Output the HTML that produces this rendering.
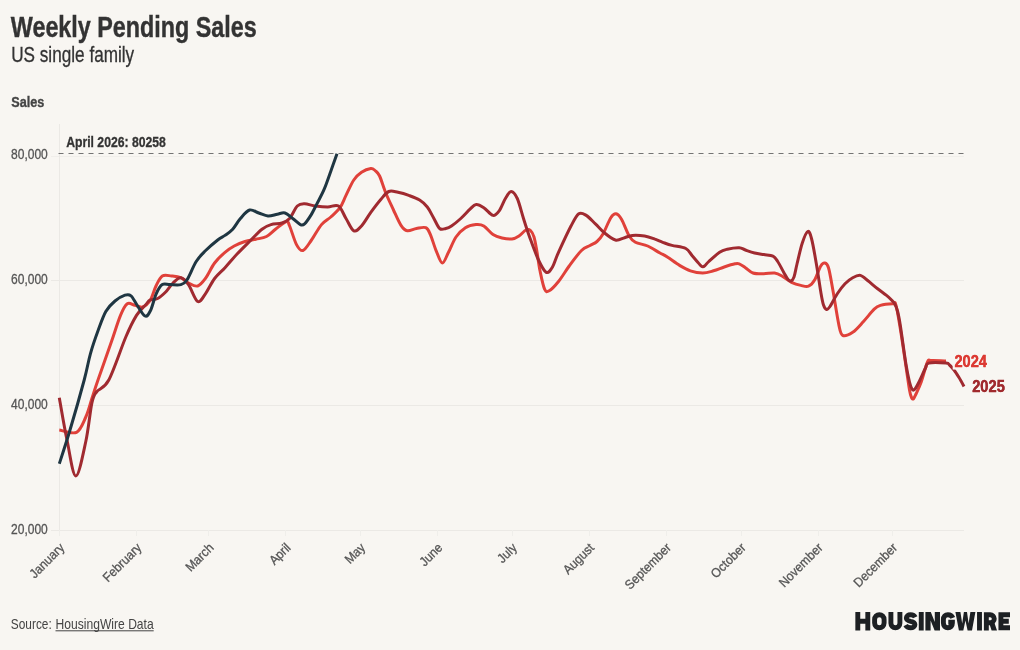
<!DOCTYPE html>
<html><head><meta charset="utf-8"><style>
html,body{margin:0;padding:0;background:#f8f6f2;}
body{width:1020px;height:650px;overflow:hidden;}
svg{display:block;font-family:"Liberation Sans", sans-serif;will-change:transform;}
</style></head><body>
<svg width="1020" height="650" viewBox="0 0 1020 650">
<line x1="51" x2="964" y1="530.5" y2="530.5" stroke="#ebe9e5" stroke-width="1"/>
<line x1="51" x2="964" y1="405.5" y2="405.5" stroke="#ebe9e5" stroke-width="1"/>
<line x1="51" x2="964" y1="280.5" y2="280.5" stroke="#ebe9e5" stroke-width="1"/>
<line x1="51" x2="964" y1="156.5" y2="156.5" stroke="#f0eeea" stroke-width="1"/>
<line x1="59.5" x2="59.5" y1="124" y2="531" stroke="#ebe9e5" stroke-width="1"/>
<line x1="59.5" x2="59.5" y1="530" y2="536" stroke="#efeeea" stroke-width="1"/>
<line x1="136.5" x2="136.5" y1="530" y2="536" stroke="#efeeea" stroke-width="1"/>
<line x1="208.5" x2="208.5" y1="530" y2="536" stroke="#efeeea" stroke-width="1"/>
<line x1="285.5" x2="285.5" y1="530" y2="536" stroke="#efeeea" stroke-width="1"/>
<line x1="360.5" x2="360.5" y1="530" y2="536" stroke="#efeeea" stroke-width="1"/>
<line x1="437.5" x2="437.5" y1="530" y2="536" stroke="#efeeea" stroke-width="1"/>
<line x1="512.5" x2="512.5" y1="530" y2="536" stroke="#efeeea" stroke-width="1"/>
<line x1="589.5" x2="589.5" y1="530" y2="536" stroke="#efeeea" stroke-width="1"/>
<line x1="666.5" x2="666.5" y1="530" y2="536" stroke="#efeeea" stroke-width="1"/>
<line x1="741.5" x2="741.5" y1="530" y2="536" stroke="#efeeea" stroke-width="1"/>
<line x1="818.5" x2="818.5" y1="530" y2="536" stroke="#efeeea" stroke-width="1"/>
<line x1="892.5" x2="892.5" y1="530" y2="536" stroke="#efeeea" stroke-width="1"/>
<text x="47.8" y="159.2" text-anchor="end" font-size="14.5" fill="#555" stroke="#555" stroke-width="0.3" textLength="36.8" lengthAdjust="spacingAndGlyphs">80,000</text>
<text x="47.8" y="284.1" text-anchor="end" font-size="14.5" fill="#555" stroke="#555" stroke-width="0.3" textLength="36.8" lengthAdjust="spacingAndGlyphs">60,000</text>
<text x="47.8" y="409.1" text-anchor="end" font-size="14.5" fill="#555" stroke="#555" stroke-width="0.3" textLength="36.8" lengthAdjust="spacingAndGlyphs">40,000</text>
<text x="47.8" y="534.0" text-anchor="end" font-size="14.5" fill="#555" stroke="#555" stroke-width="0.3" textLength="36.8" lengthAdjust="spacingAndGlyphs">20,000</text>
<text transform="translate(65.2,548.5) rotate(-45)" text-anchor="end" font-size="13.0" fill="#555" stroke="#555" stroke-width="0.3" textLength="43.0" lengthAdjust="spacingAndGlyphs">January</text>
<text transform="translate(142.3,548.5) rotate(-45)" text-anchor="end" font-size="13.0" fill="#555" stroke="#555" stroke-width="0.3" textLength="48.4" lengthAdjust="spacingAndGlyphs">February</text>
<text transform="translate(214.4,548.5) rotate(-45)" text-anchor="end" font-size="13.0" fill="#555" stroke="#555" stroke-width="0.3" textLength="33.6" lengthAdjust="spacingAndGlyphs">March</text>
<text transform="translate(291.5,548.5) rotate(-45)" text-anchor="end" font-size="13.0" fill="#555" stroke="#555" stroke-width="0.3" textLength="24.2" lengthAdjust="spacingAndGlyphs">April</text>
<text transform="translate(366.1,548.5) rotate(-45)" text-anchor="end" font-size="13.0" fill="#555" stroke="#555" stroke-width="0.3" textLength="22.8" lengthAdjust="spacingAndGlyphs">May</text>
<text transform="translate(443.2,548.5) rotate(-45)" text-anchor="end" font-size="13.0" fill="#555" stroke="#555" stroke-width="0.3" textLength="26.2" lengthAdjust="spacingAndGlyphs">June</text>
<text transform="translate(517.8,548.5) rotate(-45)" text-anchor="end" font-size="13.0" fill="#555" stroke="#555" stroke-width="0.3" textLength="21.5" lengthAdjust="spacingAndGlyphs">July</text>
<text transform="translate(594.8,548.5) rotate(-45)" text-anchor="end" font-size="13.0" fill="#555" stroke="#555" stroke-width="0.3" textLength="37.6" lengthAdjust="spacingAndGlyphs">August</text>
<text transform="translate(671.9,548.5) rotate(-45)" text-anchor="end" font-size="13.0" fill="#555" stroke="#555" stroke-width="0.3" textLength="59.1" lengthAdjust="spacingAndGlyphs">September</text>
<text transform="translate(746.5,548.5) rotate(-45)" text-anchor="end" font-size="13.0" fill="#555" stroke="#555" stroke-width="0.3" textLength="43.0" lengthAdjust="spacingAndGlyphs">October</text>
<text transform="translate(823.6,548.5) rotate(-45)" text-anchor="end" font-size="13.0" fill="#555" stroke="#555" stroke-width="0.3" textLength="55.8" lengthAdjust="spacingAndGlyphs">November</text>
<text transform="translate(898.2,548.5) rotate(-45)" text-anchor="end" font-size="13.0" fill="#555" stroke="#555" stroke-width="0.3" textLength="55.8" lengthAdjust="spacingAndGlyphs">December</text>
<line x1="58.5" x2="964" y1="153.5" y2="153.5" stroke="#737373" stroke-width="1" stroke-dasharray="5 5"/>
<text x="66.2" y="146.8" font-size="14.5" font-weight="bold" fill="#333" stroke="#333" stroke-width="0.3" textLength="99.7" lengthAdjust="spacingAndGlyphs">April 2026: 80258</text>
<path d="M59.3,430.0 C62.2,430.4 72.1,434.5 76.5,432.3 C80.9,430.1 83.2,422.6 85.8,417.0 C88.4,411.4 89.9,404.7 91.9,398.5 C93.9,392.3 94.7,389.5 98.0,380.0 C101.3,370.5 107.8,352.3 111.5,341.5 C115.2,330.7 117.9,321.7 120.5,315.4 C123.1,309.1 124.9,305.5 127.3,303.8 C129.7,302.1 132.4,304.9 135.0,305.4 C137.6,305.9 140.1,307.9 142.7,307.0 C145.3,306.1 148.2,303.5 150.4,300.0 C152.6,296.5 154.0,290.0 156.0,286.0 C158.0,282.0 159.7,277.7 162.3,276.0 C164.9,274.3 168.4,275.7 171.5,276.0 C174.6,276.3 178.0,276.5 180.8,277.7 C183.6,278.9 185.7,281.6 188.5,283.0 C191.3,284.4 194.9,286.8 197.7,286.0 C200.5,285.2 202.6,282.3 205.4,278.5 C208.2,274.7 211.3,267.4 214.6,263.0 C217.9,258.6 221.7,255.1 225.0,252.3 C228.3,249.5 230.9,247.8 234.2,246.0 C237.5,244.2 241.4,242.6 245.0,241.5 C248.6,240.4 252.2,240.0 255.8,239.2 C259.4,238.4 263.2,238.2 266.5,236.5 C269.8,234.8 272.5,231.5 275.8,229.0 C279.1,226.5 284.2,222.0 286.5,221.5 C288.8,221.0 287.9,222.2 289.6,226.0 C291.3,229.8 294.3,240.5 296.5,244.6 C298.7,248.7 300.5,251.3 303.0,250.5 C305.5,249.7 308.4,244.3 311.5,240.0 C314.6,235.7 318.3,228.4 321.5,224.6 C324.7,220.8 327.7,219.8 330.8,217.0 C333.9,214.2 337.5,211.3 340.0,207.7 C342.5,204.1 343.7,200.0 346.0,195.4 C348.3,190.8 351.2,183.8 353.8,180.0 C356.4,176.2 358.7,174.2 361.5,172.3 C364.3,170.4 368.5,168.8 370.8,168.5 C373.1,168.2 373.9,169.6 375.4,170.8 C376.9,172.1 377.9,172.3 379.6,176.0 C381.3,179.7 383.5,187.3 385.8,193.0 C388.1,198.7 391.0,204.6 393.5,210.0 C396.0,215.4 398.7,221.9 401.0,225.4 C403.3,228.9 404.7,230.3 407.3,230.8 C409.9,231.3 413.4,229.0 416.5,228.5 C419.6,228.0 423.5,226.7 425.8,227.7 C428.1,228.7 428.7,230.8 430.4,234.6 C432.1,238.4 434.2,246.1 436.2,250.8 C438.2,255.5 440.2,262.8 442.3,263.0 C444.4,263.2 446.2,256.6 448.5,252.3 C450.8,248.0 453.2,241.1 456.0,237.0 C458.8,232.9 462.1,229.8 465.4,227.7 C468.7,225.6 472.9,224.9 476.0,224.6 C479.1,224.3 481.0,224.3 483.8,226.0 C486.6,227.7 490.0,232.5 493.0,234.5 C496.0,236.5 498.8,237.2 502.0,238.0 C505.2,238.8 509.2,239.3 512.0,239.0 C514.8,238.7 516.7,237.5 519.0,236.0 C521.3,234.5 524.1,230.9 526.0,230.0 C527.9,229.1 529.2,229.3 530.5,230.5 C531.8,231.7 532.9,233.4 534.0,237.0 C535.1,240.6 536.0,246.4 537.0,252.0 C538.0,257.6 538.7,264.6 540.0,270.8 C541.3,277.0 543.1,285.9 544.6,289.2 C546.1,292.5 546.9,292.1 549.2,290.8 C551.5,289.5 555.2,285.6 558.5,281.5 C561.8,277.4 565.4,271.2 569.2,266.0 C573.0,260.8 578.0,253.9 581.5,250.5 C585.0,247.1 587.4,247.0 590.0,245.5 C592.6,244.0 594.8,243.4 597.0,241.5 C599.2,239.6 600.7,238.0 603.0,234.0 C605.3,230.0 608.6,221.1 610.8,217.7 C613.0,214.3 614.2,213.6 616.0,213.8 C617.8,214.1 619.3,215.5 621.5,219.2 C623.7,222.9 626.9,232.2 629.2,236.0 C631.5,239.8 632.3,240.6 635.4,242.3 C638.5,244.0 643.6,244.2 647.7,246.0 C651.8,247.8 656.7,251.2 660.0,253.0 C663.3,254.8 664.0,254.9 667.3,257.0 C670.6,259.1 675.8,263.1 679.6,265.4 C683.5,267.7 686.5,269.5 690.4,270.8 C694.2,272.1 698.9,273.0 702.7,273.0 C706.6,273.0 709.9,271.8 713.5,270.8 C717.1,269.8 720.6,268.2 724.2,267.0 C727.8,265.8 732.5,264.3 735.0,263.8 C737.5,263.3 737.5,263.2 739.2,263.8 C740.9,264.4 743.1,266.2 745.4,267.7 C747.7,269.2 749.9,272.0 753.0,273.0 C756.1,274.0 760.2,273.8 763.8,273.8 C767.4,273.8 771.5,272.6 774.6,273.0 C777.7,273.4 779.5,274.6 782.3,276.2 C785.1,277.8 788.4,280.8 791.5,282.3 C794.6,283.8 798.0,284.8 800.8,285.4 C803.6,286.0 806.2,287.1 808.5,286.2 C810.8,285.3 812.6,283.4 814.6,280.0 C816.6,276.6 819.1,268.8 820.8,266.0 C822.5,263.2 823.3,262.7 824.6,263.0 C825.9,263.3 827.1,263.1 828.5,267.7 C829.9,272.3 831.3,281.3 833.0,290.8 C834.7,300.3 837.2,317.2 838.8,324.6 C840.4,332.0 840.4,334.1 842.7,335.4 C845.0,336.7 849.2,334.6 852.7,332.3 C856.2,330.0 859.9,325.4 863.5,321.5 C867.1,317.6 871.4,311.9 874.2,309.2 C877.0,306.5 877.3,306.3 880.4,305.4 C883.5,304.5 890.1,303.9 892.7,303.8 C895.3,303.7 894.5,300.4 895.8,304.6 C897.1,308.8 898.6,318.3 900.4,329.2 C902.2,340.1 905.0,359.9 906.5,370.0 C908.0,380.1 908.7,385.4 909.5,390.0 C910.3,394.6 910.8,396.0 911.5,397.5 C912.2,399.0 912.8,399.4 913.5,398.8 C914.2,398.2 914.7,396.8 916.0,394.0 C917.3,391.2 919.3,387.3 921.2,382.0 C923.1,376.7 925.8,365.6 927.5,362.0 C929.2,358.4 928.4,360.8 931.5,360.6 C934.6,360.4 943.6,360.9 946.0,361.0" fill="none" stroke="#e0413a" stroke-width="3" stroke-linejoin="round" stroke-linecap="butt"/>
<path d="M59.3,397.7 C60.6,404.8 64.2,426.9 67.0,440.0 C69.8,453.1 72.7,475.8 75.8,476.0 C78.9,476.2 83.1,453.7 85.8,441.5 C88.5,429.3 90.1,411.2 91.9,403.0 C93.7,394.8 93.7,395.8 96.5,392.0 C99.3,388.2 103.9,389.2 108.8,380.0 C113.7,370.8 121.2,347.8 125.8,337.0 C130.4,326.2 133.2,320.8 136.5,315.4 C139.8,310.0 143.6,307.2 145.8,304.6 C148.1,302.0 148.0,301.0 150.0,300.0 C152.0,299.0 155.1,299.8 157.7,298.5 C160.3,297.2 162.8,294.9 165.4,292.3 C168.0,289.7 170.4,285.4 173.0,283.0 C175.6,280.6 178.2,277.4 180.8,277.7 C183.4,278.0 185.7,280.6 188.5,284.6 C191.3,288.6 194.9,300.0 197.7,301.5 C200.5,303.0 202.6,297.6 205.4,293.8 C208.2,290.0 211.3,282.9 214.6,278.5 C217.9,274.1 221.2,271.8 225.0,267.7 C228.8,263.6 233.0,258.4 237.3,253.8 C241.6,249.2 246.9,244.1 251.0,240.0 C255.1,235.9 258.7,231.8 262.0,229.2 C265.3,226.6 267.7,225.6 271.0,224.6 C274.3,223.6 278.9,224.0 282.0,223.0 C285.1,222.0 287.1,221.3 289.6,218.5 C292.2,215.7 294.8,208.4 297.3,206.0 C299.8,203.6 301.6,203.8 304.6,203.8 C307.6,203.8 311.5,205.5 315.4,206.0 C319.2,206.5 323.8,207.0 327.7,207.0 C331.6,207.0 335.4,204.1 338.5,206.0 C341.6,207.9 343.4,214.4 346.0,218.5 C348.6,222.6 351.2,229.6 353.8,230.8 C356.4,232.1 358.7,229.1 361.5,226.0 C364.3,222.9 367.6,216.8 370.8,212.3 C374.1,207.8 378.0,202.7 381.0,199.2 C384.0,195.7 386.0,192.7 388.8,191.5 C391.6,190.3 394.7,191.7 398.0,192.3 C401.3,193.0 405.2,194.1 408.8,195.4 C412.4,196.7 416.5,198.1 419.6,200.0 C422.7,201.9 425.0,204.1 427.3,207.0 C429.6,209.9 431.4,214.1 433.5,217.7 C435.6,221.3 437.6,226.7 439.6,228.5 C441.7,230.3 443.8,228.9 445.8,228.5 C447.8,228.1 449.0,227.7 451.5,226.0 C454.0,224.3 457.7,221.3 460.8,218.5 C463.9,215.7 467.5,211.5 470.0,209.2 C472.5,206.9 473.7,204.8 476.0,204.6 C478.3,204.3 481.0,205.9 483.8,207.7 C486.6,209.5 490.4,214.9 493.0,215.4 C495.6,215.9 497.1,213.6 499.2,210.8 C501.3,208.0 503.4,201.7 505.4,198.5 C507.4,195.3 509.2,191.5 511.2,191.5 C513.2,191.5 515.2,194.0 517.3,198.5 C519.3,203.0 521.5,212.1 523.5,218.5 C525.5,224.9 527.1,230.1 529.6,237.0 C532.1,243.9 535.7,254.1 538.5,260.0 C541.3,265.9 543.9,271.1 546.2,272.3 C548.5,273.5 550.5,270.3 552.5,267.0 C554.5,263.7 555.4,259.1 558.5,252.3 C561.6,245.5 567.6,232.4 571.0,226.0 C574.4,219.6 576.3,215.6 578.8,213.8 C581.3,212.0 583.4,213.7 586.2,215.4 C589.0,217.1 592.3,220.9 595.4,223.8 C598.5,226.7 601.3,230.3 604.6,233.0 C607.9,235.7 612.1,239.2 615.4,240.0 C618.7,240.8 621.8,238.5 624.6,237.7 C627.4,236.9 629.0,235.7 632.3,235.4 C635.6,235.1 640.8,235.4 644.6,236.0 C648.4,236.6 652.0,238.1 655.0,239.2 C658.0,240.2 659.9,241.3 662.7,242.3 C665.5,243.3 668.1,244.4 672.0,245.4 C675.9,246.4 682.5,246.8 685.8,248.5 C689.1,250.2 690.0,253.1 692.0,255.4 C694.0,257.7 696.5,260.8 698.0,262.5 C699.5,264.2 700.0,264.9 700.8,265.6 C701.6,266.3 702.1,266.8 702.8,266.8 C703.5,266.8 704.0,266.5 705.0,265.6 C706.0,264.7 706.4,263.7 708.8,261.5 C711.2,259.3 716.5,254.4 719.6,252.3 C722.7,250.2 724.0,250.0 727.3,249.2 C730.6,248.4 736.2,247.6 739.2,247.7 C742.2,247.8 742.8,249.1 745.4,250.0 C748.0,250.9 751.5,252.2 754.6,253.0 C757.7,253.8 760.7,254.1 763.8,254.6 C766.9,255.1 770.7,255.0 773.0,256.2 C775.3,257.3 775.9,258.8 777.7,261.5 C779.5,264.2 782.1,269.5 783.8,272.5 C785.5,275.5 786.8,278.1 788.0,279.5 C789.2,280.9 790.0,281.4 791.0,281.0 C792.0,280.6 793.0,279.8 794.0,277.0 C795.0,274.2 795.6,269.7 797.0,264.0 C798.4,258.3 800.5,248.4 802.3,243.0 C804.1,237.6 806.2,232.2 807.7,231.5 C809.2,230.8 810.1,233.2 811.5,238.5 C812.9,243.8 814.7,254.1 816.2,263.0 C817.8,271.9 819.6,285.0 820.8,292.0 C822.0,299.0 822.5,302.1 823.5,305.0 C824.5,307.9 825.4,309.2 826.5,309.5 C827.6,309.8 828.2,309.1 830.0,306.5 C831.8,303.9 834.8,297.6 837.3,293.8 C839.8,290.0 842.4,286.5 845.0,283.8 C847.6,281.1 850.1,279.1 852.7,277.7 C855.3,276.3 857.9,274.9 860.4,275.4 C862.9,275.9 865.2,278.6 868.0,280.8 C870.8,283.0 874.2,286.1 877.3,288.5 C880.4,290.9 884.2,293.6 886.5,295.4 C888.8,297.2 889.7,298.1 891.0,299.5 C892.3,300.9 893.4,301.6 894.5,303.5 C895.6,305.4 896.5,307.2 897.5,311.0 C898.5,314.8 899.0,317.1 900.4,326.0 C901.8,334.9 904.5,355.2 906.0,364.5 C907.5,373.8 908.5,377.9 909.5,382.0 C910.5,386.1 911.2,387.8 912.0,389.0 C912.8,390.2 913.3,390.7 914.5,389.5 C915.7,388.3 917.2,385.6 919.0,382.0 C920.8,378.4 923.9,371.1 925.5,368.0 C927.1,364.9 925.4,363.9 928.8,363.1 C932.2,362.3 942.5,362.8 946.0,363.1 C949.5,363.4 948.2,363.9 949.5,365.0 C950.8,366.1 952.4,367.9 954.0,370.0 C955.6,372.1 957.3,374.8 959.0,377.5 C960.7,380.2 963.2,385.0 964.0,386.5" fill="none" stroke="#a02a30" stroke-width="3" stroke-linejoin="round" stroke-linecap="butt"/>
<path d="M59.3,463.8 C61.1,458.2 65.8,444.0 70.0,430.0 C74.2,416.0 80.8,392.7 84.2,380.0 C87.6,367.3 88.1,362.0 90.4,353.8 C92.7,345.6 95.4,337.9 98.0,330.8 C100.6,323.8 103.0,316.5 105.8,311.5 C108.6,306.5 111.8,303.7 115.0,301.0 C118.2,298.3 122.3,296.1 125.0,295.2 C127.7,294.3 129.0,294.2 131.0,295.8 C133.0,297.4 134.7,301.6 137.0,305.0 C139.3,308.4 142.8,315.0 145.0,316.0 C147.2,317.0 148.5,314.5 150.4,310.8 C152.3,307.1 154.2,298.2 156.2,293.8 C158.2,289.4 160.0,286.1 162.3,284.6 C164.6,283.1 166.9,284.6 170.0,284.6 C173.1,284.6 178.0,285.4 180.8,284.6 C183.6,283.8 184.3,283.9 186.9,280.0 C189.5,276.1 193.1,266.4 196.2,261.5 C199.3,256.6 201.8,254.4 205.4,250.8 C209.0,247.2 214.4,242.6 217.7,240.0 C221.0,237.4 222.5,237.2 225.0,235.4 C227.5,233.6 230.1,232.0 232.7,229.2 C235.3,226.4 237.6,221.7 240.4,218.5 C243.2,215.3 246.5,210.9 249.6,210.0 C252.7,209.1 255.7,212.0 258.8,213.0 C261.9,214.0 264.9,215.8 268.0,216.0 C271.1,216.2 274.5,214.7 277.3,214.2 C280.1,213.7 282.4,212.3 285.0,213.0 C287.6,213.7 290.1,216.6 292.7,218.5 C295.3,220.4 298.4,223.7 300.4,224.6 C302.4,225.5 302.9,225.3 304.6,223.8 C306.3,222.3 308.8,218.6 310.8,215.4 C312.8,212.2 314.3,209.0 316.5,204.6 C318.7,200.2 321.7,195.1 324.2,189.2 C326.7,183.3 329.4,175.1 331.5,169.2 C333.6,163.3 336.1,156.4 337.0,153.8" fill="none" stroke="#1f3642" stroke-width="3" stroke-linejoin="round" stroke-linecap="butt"/>
<text x="954.4" y="366.8" font-size="16.3" font-weight="bold" fill="#dc3a33" stroke="#f8f6f2" stroke-width="5" paint-order="stroke" textLength="32.6" lengthAdjust="spacingAndGlyphs">2024</text>
<text x="954.4" y="366.8" font-size="16.3" font-weight="bold" fill="#dc3a33" stroke="#dc3a33" stroke-width="0.35" textLength="32.6" lengthAdjust="spacingAndGlyphs">2024</text>
<text x="972.2" y="391.6" font-size="16.3" font-weight="bold" fill="#a02a2e" stroke="#f8f6f2" stroke-width="5" paint-order="stroke" textLength="32.6" lengthAdjust="spacingAndGlyphs">2025</text>
<text x="972.2" y="391.6" font-size="16.3" font-weight="bold" fill="#a02a2e" stroke="#a02a2e" stroke-width="0.35" textLength="32.6" lengthAdjust="spacingAndGlyphs">2025</text>
<text x="10.8" y="36.5" font-size="29" font-weight="bold" fill="#333" stroke="#333" stroke-width="0.4" textLength="246" lengthAdjust="spacingAndGlyphs">Weekly Pending Sales</text>
<text x="11.2" y="61.5" font-size="21.2" fill="#333" stroke="#333" stroke-width="0.3" textLength="123" lengthAdjust="spacingAndGlyphs">US single family</text>
<text x="11.3" y="107.2" font-size="14" font-weight="bold" fill="#444" stroke="#444" stroke-width="0.35" textLength="33" lengthAdjust="spacingAndGlyphs">Sales</text>
<text x="10.8" y="628.7" font-size="15" fill="#444" textLength="41" lengthAdjust="spacingAndGlyphs">Source:</text>
<text x="55.5" y="628.7" font-size="15" fill="#444" textLength="98.2" lengthAdjust="spacingAndGlyphs">HousingWire Data</text>
<line x1="55.5" x2="153.7" y1="630.8" y2="630.8" stroke="#444" stroke-width="1"/>
<g fill="none" stroke="#1d2023" stroke-width="4.9" stroke-linecap="butt" stroke-linejoin="miter">
<path d="M857.8,612.1V630.4M867.8,612.1V630.4M857.8,621.25H867.8"/>
<rect x="874.6" y="614.7" width="9.5" height="13.1" rx="4.75" ry="4.75"/>
<path d="M890.9,612.1V623.3A4.5,4.5 0 0 0 899.9,623.3V612.1"/>
<path d="M915.2,617.2C914.4,615.5 912.8,614.7 910.6,614.7C908,614.7 906.35,616 906.35,618C906.35,620.2 908.5,620.8 910.6,621.3C913,621.8 914.9,622.6 914.9,624.7C914.9,626.7 913,627.8 910.6,627.8C908.4,627.8 906.6,626.9 905.6,625.1"/>
<path d="M921.25,612.1V630.4M979.5,612.1V630.4"/>
<path d="M952.8,617.8C952,615.7 950.2,614.7 947.9,614.7C945.2,614.7 943.4,616.5 943.4,619.4V623.1C943.4,626 945.2,627.8 947.9,627.8C950.6,627.8 952.4,626 952.4,623.1V622.2H948.3"/>
<path d="M986.35,630.4V614.7H990.2A4.05,4.05 0 0 1 990.2,622.8H986.35"/>
<path d="M1010,614.7H1000.9V627.8H1010M1000.9,621.25H1008.8"/>
</g>
<path fill="#1d2023" d="M925.4,612.1H930.8L934.8,622V612.1H940V630.4H934.6L930.6,620.5V630.4H925.4Z"/>
<path fill="#1d2023" d="M955.4,612.1H960.4L962.2,623.5L963.9,612.1H967L968.6,623.5L970.4,612.1H975.4L972,630.4H967.6L965.45,620.5L963.3,630.4H958.9Z"/>
<path fill="#1d2023" d="M989,622.6H994.3L997,630.4H991.6Z"/>
</svg>
</body></html>
